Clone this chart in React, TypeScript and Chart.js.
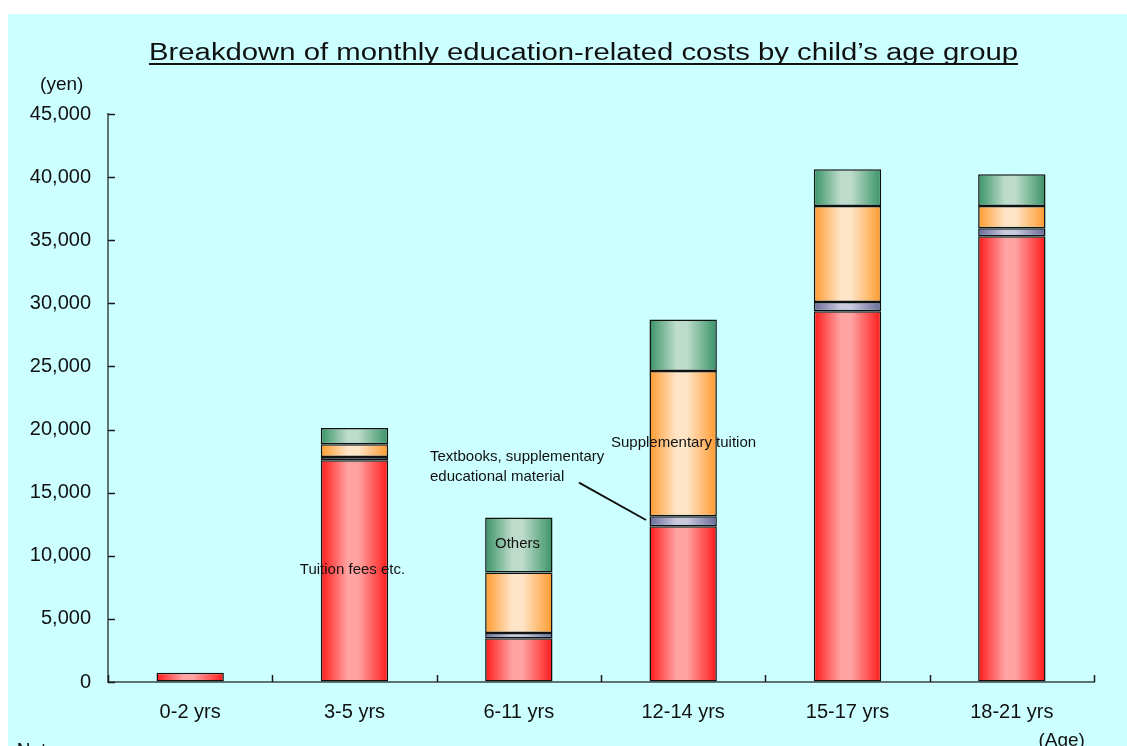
import React, { useEffect, useRef } from "react";
import { Chart, registerables } from "chart.js";

Chart.register(...registerables);

const FONT = '"Liberation Sans", Arial, Helvetica, sans-serif';

// ---- data ----
const categories = ["0-2 yrs", "3-5 yrs", "6-11 yrs", "12-14 yrs", "15-17 yrs", "18-21 yrs"];
const tuitionFees = [740, 17570, 3460, 12340, 29380, 35320];
const textbooks = [0, 260, 420, 790, 730, 630];
const supplementaryTuition = [0, 1000, 4790, 11510, 7610, 1770];
const others = [0, 1300, 4360, 4070, 2910, 2510];
const yMax = 45000;
const yStep = 5000;

const titleText = "Breakdown of monthly education-related costs by child\u2019s age group";
const yUnit = "(yen)";
const xUnit = "(Age)";

// ---- styling ----
const BAR_PCT = 0.41;
const seriesColors: [string, string][] = [
  ["#FF1A1A", "#FFA3A3"], // tuition
  ["#6A6A9A", "#CACADF"], // textbooks
  ["#FF9A2E", "#FFE5C8"], // supplementary
  ["#399367", "#BEDCCB"], // others
];

function gradientFor(idx: number) {
  return (c: any) => {
    const [edge, mid] = seriesColors[idx];
    const chart = c.chart;
    const xs = chart.scales && chart.scales.x;
    if (!xs || c.type !== "data" || !isFinite(xs.width)) return edge;
    const cx = xs.getPixelForValue(c.dataIndex);
    const w = (xs.width / categories.length) * BAR_PCT;
    const l = cx - w / 2;
    const g = chart.ctx.createLinearGradient(l, 0, l + w, 0);
    g.addColorStop(0, edge);
    g.addColorStop(0.4, mid);
    g.addColorStop(0.55, mid);
    g.addColorStop(1, edge);
    return g;
  };
}

function drawText(
  ctx: CanvasRenderingContext2D,
  text: string,
  x: number,
  y: number,
  size: number,
  align: CanvasTextAlign,
  targetWidth?: number
) {
  ctx.save();
  ctx.font = `${size}px ${FONT}`;
  ctx.fillStyle = "#111";
  ctx.textBaseline = "alphabetic";
  ctx.textAlign = align;
  if (targetWidth) {
    const m = ctx.measureText(text).width;
    const s = targetWidth / m;
    ctx.translate(x, y);
    ctx.scale(s, 1);
    ctx.fillText(text, 0, 0);
  } else {
    ctx.fillText(text, x, y);
  }
  ctx.restore();
}

const decorPlugin = {
  id: "decor",
  afterDraw(chart: any) {
    const ctx: CanvasRenderingContext2D = chart.ctx;
    const xs = chart.scales.x;
    const ys = chart.scales.y;
    const area = chart.chartArea;

    // inward tick marks
    ctx.save();
    ctx.strokeStyle = "#1a1a1a";
    ctx.lineWidth = 1.5;
    ctx.beginPath();
    ys.ticks.forEach((t: any) => {
      const y = Math.round(ys.getPixelForValue(t.value)) + 0.5;
      ctx.moveTo(area.left, y);
      ctx.lineTo(area.left + 7, y);
    });
    for (let i = 0; i <= categories.length; i++) {
      const x = Math.round(xs.getPixelForValue(i - 0.5)) + 0.5;
      ctx.moveTo(x, area.bottom);
      ctx.lineTo(x, area.bottom - 7);
    }
    ctx.stroke();
    ctx.restore();

    // title with underline
    ctx.save();
    const tw = 869;
    drawText(ctx, titleText, 575.5, 46, 23, "center", tw);
    ctx.fillStyle = "#111";
    ctx.fillRect(575.5 - tw / 2, 49, tw, 2);
    ctx.restore();

    drawText(ctx, yUnit, 53.7, 76, 19, "center");
    drawText(ctx, xUnit, 1053.7, 731.5, 19, "center");
    drawText(ctx, "Note:", 8.7, 742.3, 19, "left");

    // series annotations
    drawText(ctx, "Tuition fees etc.", 344.5, 560.3, 15, "center");
    drawText(ctx, "Others", 509.5, 534.3, 15, "center");
    drawText(ctx, "Supplementary tuition", 603, 432.7, 15, "left");
    drawText(ctx, "Textbooks, supplementary", 422, 446.7, 15, "left");
    drawText(ctx, "educational material", 422, 467, 15, "left");

    ctx.save();
    ctx.strokeStyle = "#111";
    ctx.lineWidth = 2;
    ctx.beginPath();
    ctx.moveTo(571, 468.7);
    ctx.lineTo(638, 506);
    ctx.stroke();
    ctx.restore();
  },
};

export default function App() {
  const ref = useRef<HTMLCanvasElement | null>(null);

  useEffect(() => {
    if (!ref.current) return;
    const mk = (label: string, data: number[], idx: number) => ({
      label,
      data,
      backgroundColor: gradientFor(idx),
      borderColor: "#111",
      borderWidth: 1.5,
      borderSkipped: false,
      barPercentage: BAR_PCT,
      categoryPercentage: 1.0,
    });
    const chart = new Chart(ref.current, {
      type: "bar",
      data: {
        labels: categories,
        datasets: [
          mk("Tuition fees etc.", tuitionFees, 0),
          mk("Textbooks, supplementary educational material", textbooks, 1),
          mk("Supplementary tuition", supplementaryTuition, 2),
          mk("Others", others, 3),
        ],
      },
      options: {
        responsive: false,
        animation: false,
        layout: { padding: { left: 0, right: 33, top: 100, bottom: 68 } },
        plugins: {
          legend: { display: false },
          title: { display: false },
          tooltip: { enabled: false },
        },
        scales: {
          x: {
            stacked: true,
            grid: { display: true, drawOnChartArea: false, drawTicks: false },
            border: { display: true, color: "#5F7373", width: 2 },
            ticks: { color: "#111", font: { family: FONT, size: 20 }, padding: 18 },
            afterFit: (s: any) => {
              s.height = 64;
            },
          },
          y: {
            stacked: true,
            min: 0,
            max: yMax,
            grid: { display: true, drawOnChartArea: false, drawTicks: false },
            border: { display: true, color: "#5F7373", width: 2 },
            ticks: {
              stepSize: yStep,
              color: "#111",
              font: { family: FONT, size: 20 },
              padding: 17,
              callback: (v: any) => Number(v).toLocaleString("en-US"),
            },
            afterFit: (s: any) => {
              s.width = 100;
            },
          },
        },
      },
      plugins: [decorPlugin],
    });
    return () => chart.destroy();
  }, []);

  return (
    <div
      style={{
        position: "fixed",
        left: 8,
        top: 14,
        right: 0,
        bottom: 0,
        overflow: "hidden",
        background: "#CCFFFF",
      }}
    >
      <canvas ref={ref} width={1119} height={800} style={{ display: "block", width: 1119, height: 800 }} />
    </div>
  );
}
